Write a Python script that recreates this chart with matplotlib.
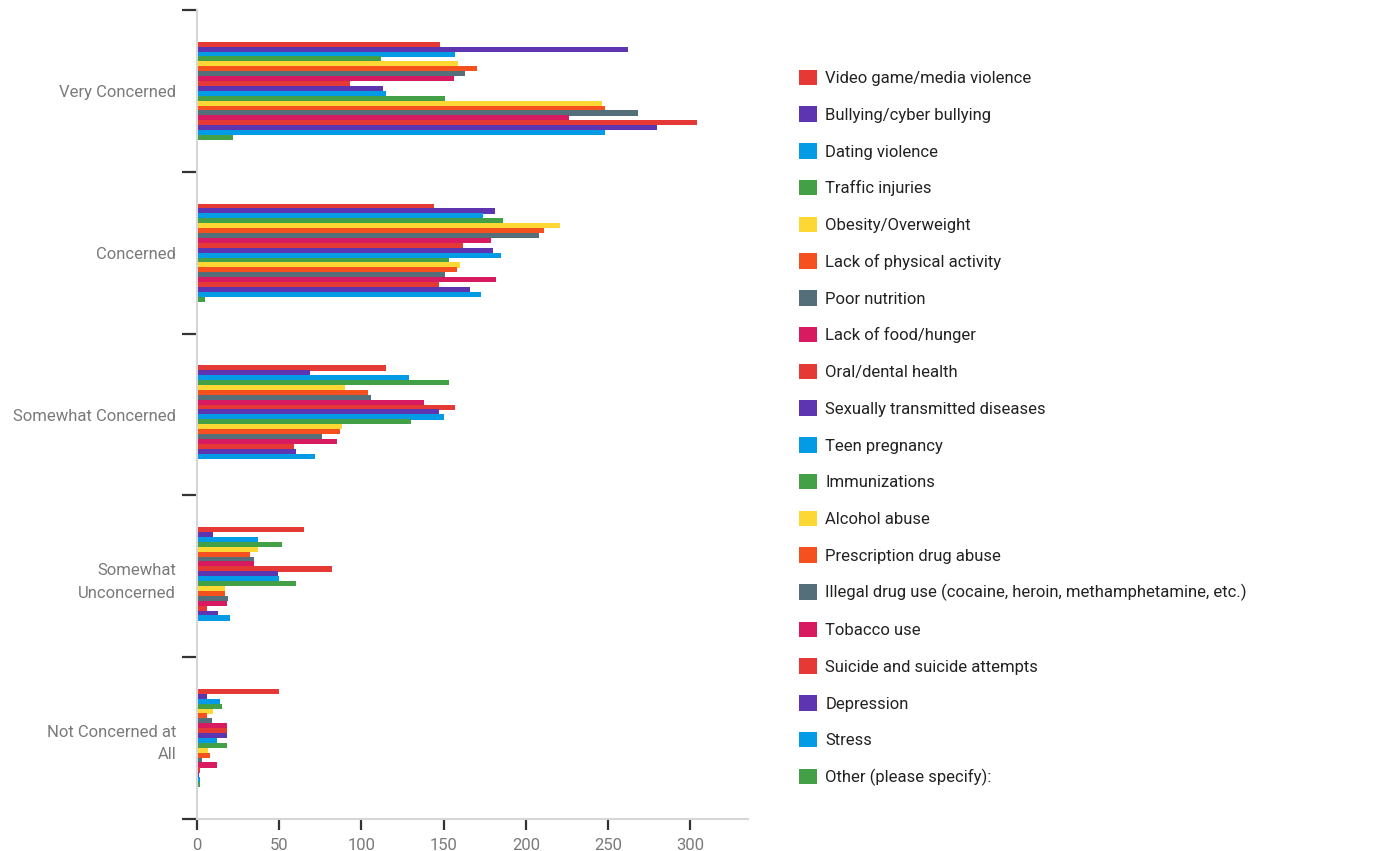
import numpy as np
import matplotlib
matplotlib.use('Agg')
import matplotlib.pyplot as plt

plt.rcParams['font.family'] = ['Roboto', 'DejaVu Sans']

# Categorías (eje y) y series
categories = ['Very Concerned', 'Concerned', 'Somewhat Concerned',
              'Somewhat\nUnconcerned', 'Not Concerned at\nAll']

series = ['Video game/media violence', 'Bullying/cyber bullying', 'Dating violence',
          'Traffic injuries', 'Obesity/Overweight', 'Lack of physical activity',
          'Poor nutrition', 'Lack of food/hunger', 'Oral/dental health',
          'Sexually transmitted diseases', 'Teen pregnancy', 'Immunizations',
          'Alcohol abuse', 'Prescription drug abuse',
          'Illegal drug use (cocaine, heroin, methamphetamine, etc.)',
          'Tobacco use', 'Suicide and suicide attempts', 'Depression', 'Stress',
          'Other (please specify):']

very_concerned = [148, 262, 157, 112, 159, 170, 163, 156, 93, 113,
                  115, 151, 246, 248, 268, 226, 304, 280, 248, 22]
concerned = [144, 181, 174, 186, 221, 211, 208, 179, 162, 180,
             185, 153, 160, 158, 151, 182, 147, 166, 173, 5]
somewhat_concerned = [115, 69, 129, 153, 90, 104, 106, 138, 157, 147,
                      150, 130, 88, 87, 76, 85, 59, 60, 72, 0]
somewhat_unconcerned = [65, 10, 37, 52, 37, 32, 35, 35, 82, 49,
                        50, 60, 17, 17, 19, 18, 6, 13, 20, 0]
not_concerned = [50, 6, 14, 15, 10, 6, 9, 18, 18, 18,
                 12, 18, 7, 8, 3, 12, 2, 1, 2, 2]

palette = ['#E53935', '#5E35B1', '#039BE5', '#43A047',
           '#FDD835', '#F4511E', '#546E7A', '#D81B60']


def draw_plot():
    fig = plt.figure(figsize=(13.81, 8.51), dpi=100)
    ax = fig.add_axes([0.1426, 0.0376, 0.399, 0.9506])

    data = np.array([very_concerned, concerned, somewhat_concerned,
                     somewhat_unconcerned, not_concerned])
    n = len(series)
    h = 0.0303
    base = np.arange(len(categories))

    handles = []
    for j, name in enumerate(series):
        y = base + (j - (n - 1) / 2) * h
        b = ax.barh(y, data[:, j], height=h * 1.05, color=palette[j % 8],
                    label=name, linewidth=0)
        handles.append(b)

    ax.set_xlim(0, 335)
    ax.set_ylim(len(categories) - 0.5, -0.5)

    # etiquetas de categoría en el centro, marcas en los límites
    ax.set_yticks(base)
    ax.set_yticklabels(categories, color='#7a7a7a', fontsize=12, ha='right',
                       linespacing=1.65)
    ax.tick_params(axis='y', which='major', length=0, pad=15)
    ax.set_yticks(np.arange(-0.5, len(categories)), minor=True)
    ax.tick_params(axis='y', which='minor', length=11, width=1.6, color='#333333')

    ax.set_xticks([0, 50, 100, 150, 200, 250, 300])
    ax.tick_params(axis='x', length=8, width=1.6, color='#333333',
                   labelcolor='#7a7a7a', labelsize=12, pad=6)

    for s in ['top', 'right']:
        ax.spines[s].set_visible(False)
    for s in ['left', 'bottom']:
        ax.spines[s].set_color('#d6d6d6')
        ax.spines[s].set_linewidth(1.5)

    fig.legend(handles=handles, loc='upper left', bbox_to_anchor=(0.574, 0.926),
               frameon=False, fontsize=12, labelcolor='#222222',
               handlelength=1.05, handleheight=1.05, handletextpad=0.5,
               labelspacing=1.22, borderaxespad=0)

    fig.savefig('out.png', dpi=100)
    return fig


if __name__ == "__main__":
    draw_plot()
